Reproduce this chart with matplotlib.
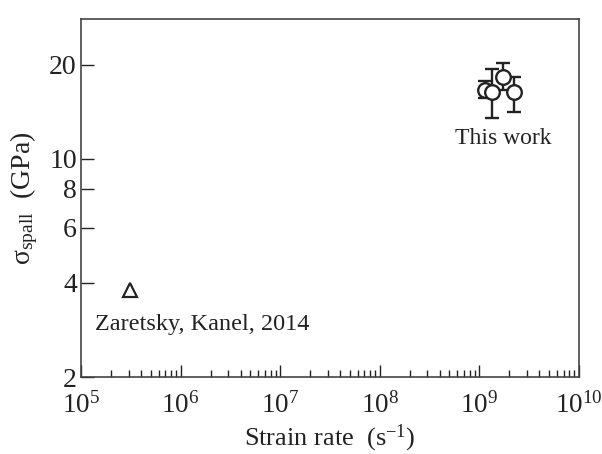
import matplotlib
matplotlib.use("Agg")
import matplotlib.pyplot as plt
from matplotlib.ticker import FixedLocator, NullFormatter, LogLocator, NullLocator

plt.rcParams['font.family'] = ['Liberation Serif', 'DejaVu Serif']
plt.rcParams['mathtext.fontset'] = 'custom'
plt.rcParams['mathtext.rm'] = 'Liberation Serif'
plt.rcParams['mathtext.it'] = 'Liberation Serif:italic'

# this work
rate = [1.14e9, 1.34e9, 1.73e9, 2.23e9]
sigma = [16.6, 16.4, 18.2, 16.4]
err_hi = [17.7, 19.3, 20.3, 18.2]
err_lo = [15.6, 13.5, 16.6, 14.1]

# Zaretsky, Kanel 2014
rate_z = [3.1e5]
sigma_z = [3.8]

yticks = [2, 4, 6, 8, 10, 20]
ytick_labels = ["2", "4", "6", "8", "10", "20"]

fig = plt.figure(figsize=(6.02, 4.54), dpi=100)
ax = fig.add_axes([0.1346, 0.1696, 0.8272, 0.7885])

yerr = [[s - l for s, l in zip(sigma, err_lo)], [h - s for s, h in zip(sigma, err_hi)]]
ax.errorbar(rate, sigma, yerr=yerr, fmt='o', ms=10.5, mfc='white', mec='#222222',
            mew=1.7, ecolor='#222222', elinewidth=1.7, capsize=5, capthick=1.7)
ax.plot(rate_z, sigma_z, '^', ms=10, mfc='white', mec='#222222', mew=1.6)

ax.set_xscale('log')
ax.set_yscale('log')
ax.set_xlim(1e5, 1e10)
ax.set_ylim(2, 28)

ax.yaxis.set_major_locator(FixedLocator(yticks))
ax.set_yticklabels(ytick_labels)
ax.yaxis.set_minor_locator(NullLocator())
ax.xaxis.set_major_locator(LogLocator(base=10, numticks=10))
ax.xaxis.set_minor_locator(LogLocator(base=10, subs=range(2, 10), numticks=20))
ax.xaxis.set_minor_formatter(NullFormatter())

ax.tick_params(axis='both', which='both', direction='in', top=False, right=False,
               colors='#222222')
ax.tick_params(axis='y', which='major', length=9, width=1.0, pad=3, labelsize=20)
ax.tick_params(axis='x', which='major', length=9, width=1.0, pad=11, labelsize=19.5)
ax.tick_params(axis='x', which='minor', length=5, width=1.0)
for sp in ax.spines.values():
    sp.set_color('#444444')
    sp.set_linewidth(1.2)

ax.set_xlabel('Strain rate  (s$^{-1}$)', fontsize=19, color='#222222', labelpad=3)
ax.set_ylabel('σ$_{\\mathrm{spall}}$  (GPa)', fontsize=20, color='#222222', labelpad=7)

ax.text(1.75e9, 11.6, 'This work', fontsize=17, ha='center', va='center', color='#222222')
ax.text(1.65e6, 2.95, 'Zaretsky, Kanel, 2014', fontsize=17.5, ha='center', va='center',
        color='#222222')

fig.savefig('out.png', dpi=100)
